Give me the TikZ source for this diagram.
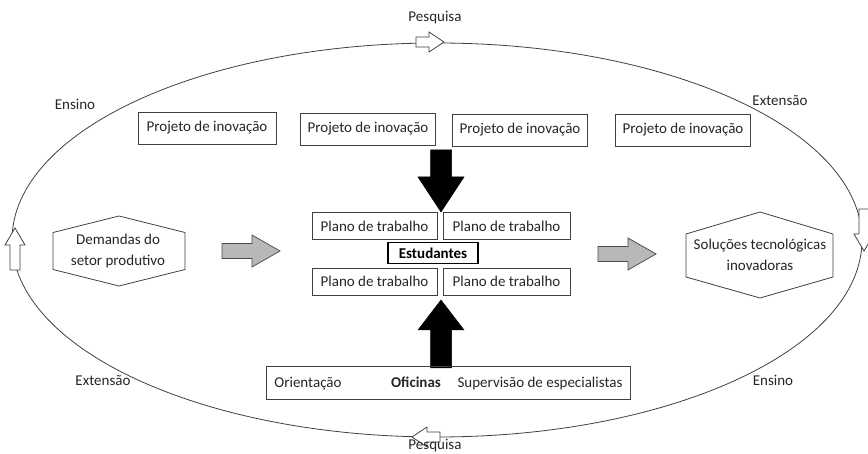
\documentclass[tikz,border=0pt]{standalone}
\usepackage{fontspec}
\setmainfont{Carlito}
\begin{document}
\begin{tikzpicture}[x=1pt,y=-1pt,
	font=\fontsize{15}{16}\selectfont,
	caixa/.style={draw=black!75,line width=0.9pt,inner sep=0pt,text=black!85,minimum width=138,minimum height=32},
	plano/.style={caixa,minimum width=126,minimum height=27},
	rotulo/.style={inner sep=0pt,text=black!85},
	setabranca/.style={draw=black!75,line width=0.8pt,fill=white},
	setacinza/.style={draw=black!70,line width=0.8pt,fill=black!28},
	setapreta/.style={draw=black,fill=black,line width=0.5pt},
	hexagono/.style={draw=black!75,line width=0.8pt,fill=white}]
 \useasboundingbox (0,0) rectangle (868,454);

	% ciclo ensino / pesquisa / extensao
	\draw [line width=0.8pt,color=black!75] (437,240) ellipse [x radius=425, y radius=197];
	\draw [setabranca,shift={(430,42)}] (-14,-5)--(-1,-5)--(-1,-10)--(14,0)--(-1,10)--(-1,5)--(-14,5)--cycle;
	\draw [setabranca,shift={(426,437)},rotate=180] (-14,-5)--(-1,-5)--(-1,-10)--(14,0)--(-1,10)--(-1,5)--(-14,5)--cycle;
	\draw [setabranca,shift={(15,249)},rotate=90] (-21,-5)--(4,-5)--(4,-10)--(21,0)--(4,10)--(4,5)--(-21,5)--cycle;
	\draw [setabranca,shift={(864,230)},rotate=-90] (-21,-5)--(4,-5)--(4,-10)--(21,0)--(4,10)--(4,5)--(-21,5)--cycle;

 \node[rotulo] (pesq1) at (435,18) {Pesquisa};
 \node[rotulo] (pesq2) at (435,446) {Pesquisa};
 \node[rotulo] (ensino1) at (75,104) {Ensino};
 \node[rotulo] (ext1) at (780,101) {Extensão};
 \node[rotulo] (ext2) at (103,381) {Extensão};
 \node[rotulo] (ensino2) at (773,380) {Ensino};

	% projetos
	\node[caixa] (proj1) at (207,128) {Projeto de inovação};
	\node[caixa,minimum width=135] (proj2) at (368,129) {Projeto de inovação};
	\node[caixa,minimum width=135] (proj3) at (520,130) {Projeto de inovação};
	\node[caixa,minimum width=135] (proj4) at (683,130) {Projeto de inovação};

	% planos de trabalho
	\node[plano,minimum width=125] (plano1) at (374.5,226) {Plano de trabalho};
	\node[plano,minimum width=127] (plano2) at (506.5,226) {Plano de trabalho};
	\node[plano,minimum width=125] (plano3) at (374.5,281.5) {Plano de trabalho};
	\node[plano,minimum width=127] (plano4) at (506.5,281.5) {Plano de trabalho};
	\node[draw=black,line width=1.3pt,inner sep=0pt,minimum width=90,minimum height=21] (estud) at (433,253) {\bfseries Estudantes};

	\draw [setapreta,shift={(441,181)},rotate=-90] (-31,-10.5)--(-4,-10.5)--(-4,-23)--(31,0)--(-4,23)--(-4,10.5)--(-31,10.5)--cycle;
	\draw [setapreta,shift={(441,334)},rotate=90] (-34,-10.5)--(4,-10.5)--(4,-23)--(34,0)--(4,23)--(4,10.5)--(-34,10.5)--cycle;

	% oficinas
	\node[caixa,minimum width=364,minimum height=33] (ofic) at (448,382.5) {};
	\node[rotulo,anchor=base] (orient) at (308,387.5) {Orientação};
	\node[rotulo,anchor=base] (oficinas) at (416,387.5) {\bfseries Oficinas};
	\node[rotulo,anchor=base] (superv) at (540,387.5) {Supervisão de especialistas};

	% demandas -> solucoes
	\draw [hexagono] (53,232.5)--(119,216)--(185,232.5)--(185,269.5)--(119,286)--(53,269.5)--cycle;
	\node[rotulo,align=center,font=\fontsize{15}{21}\selectfont] (demandas) at (118,251) {Demandas do\\setor produtivo};
	\draw [hexagono] (686,234)--(760,212)--(833,234)--(833,277)--(760,298)--(686,277)--cycle;
	\node[rotulo,align=center,font=\fontsize{15}{21}\selectfont] (solucoes) at (760,255) {Soluções tecnológicas\\inovadoras};
	\draw [setacinza,shift={(251,251)}] (-29,-7.5)--(1,-7.5)--(1,-16)--(29,0)--(1,16)--(1,7.5)--(-29,7.5)--cycle;
	\draw [setacinza,shift={(627,254)}] (-29,-7.5)--(1,-7.5)--(1,-16)--(29,0)--(1,16)--(1,7.5)--(-29,7.5)--cycle;
\end{tikzpicture}
\end{document}
